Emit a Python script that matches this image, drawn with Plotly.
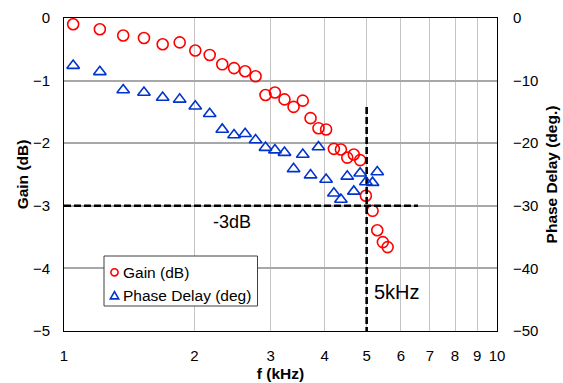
import math
import plotly.graph_objects as go

freq_khz = [1.05, 1.21, 1.37, 1.53, 1.69, 1.85, 2.01, 2.17, 2.32, 2.47,
            2.62, 2.77, 2.92, 3.07, 3.23, 3.39, 3.56, 3.71, 3.87, 4.03,
            4.20, 4.36, 4.51, 4.67, 4.83, 4.98, 5.16, 5.29, 5.45, 5.59]
gain_db = [-0.10, -0.18, -0.28, -0.32, -0.42, -0.39, -0.52, -0.59, -0.74, -0.80,
           -0.85, -0.93, -1.23, -1.19, -1.30, -1.42, -1.32, -1.60, -1.76, -1.78,
           -2.09, -2.10, -2.23, -2.18, -2.27, -2.84, -3.08, -3.39, -3.58, -3.66]
phase_deg = [-7.6, -8.6, -11.5, -11.9, -12.7, -13.0, -14.1, -15.3, -17.8, -18.7,
             -18.5, -19.5, -20.7, -21.1, -21.5, -24.1, -21.8, -25.1, -20.6, -25.8,
             -28.0, -29.0, -25.3, -27.7, -24.8, -26.2, -26.3, -24.6]
x_ticks = [1, 2, 3, 4, 5, 6, 7, 8, 9, 10]
x_ticktext = ["1", "2", "3", "4", "5", "6", "7", "8", "9", "10"]
gain_ticks = [0, -1, -2, -3, -4, -5]
phase_ticks = [0, -10, -20, -30, -40, -50]
series_names = ["Gain (dB)", "Phase Delay (deg)"]
threshold_db = -3
cutoff_khz = 5
hline_x = [1, 6.57]
vline_y = [-1.42, -5]

FONT = "Liberation Sans, Arial, sans-serif"
RED = "#ff0000"
BLUE = "#0033cc"
DASH = "7px,3px"

W, H = 563, 383
ML, MR, MT, MB = 64, 66, 18, 52
PW, PH = W - ML - MR, H - MT - MB


def px_x(px):
    return (px - ML) / PW


def px_y(py):
    return (H - MB - py) / PH


fig = go.Figure()
fig.add_trace(go.Scatter(
    x=freq_khz, y=gain_db, mode="markers", name=series_names[0], showlegend=False,
    marker=dict(symbol="circle-open", size=11, color=RED, line=dict(width=1.6, color=RED)),
))
fig.add_trace(go.Scatter(
    x=freq_khz[:len(phase_deg)], y=phase_deg, mode="markers", name=series_names[1],
    yaxis="y2", showlegend=False,
    marker=dict(symbol="triangle-up-open", size=11, color=BLUE, line=dict(width=1.6, color=BLUE)),
))
fig.add_trace(go.Scatter(
    x=hline_x, y=[threshold_db, threshold_db], mode="lines", showlegend=False,
    line=dict(color="black", width=2.6, dash=DASH), hoverinfo="skip",
))
fig.add_trace(go.Scatter(
    x=[cutoff_khz, cutoff_khz], y=vline_y, mode="lines", showlegend=False,
    line=dict(color="black", width=2.6, dash=DASH), hoverinfo="skip",
))

fig.add_annotation(x=math.log10(2.44), y=-3.26, text="-3dB", showarrow=False,
                   font=dict(family=FONT, size=18, color="black"), xref="x", yref="y")
fig.add_annotation(x=math.log10(5.88), y=-4.37, text="5kHz", showarrow=False,
                   font=dict(family=FONT, size=20, color="black"), xref="x", yref="y")

# manual legend (box, symbols, labels) in paper coordinates
shapes = []
shapes.append(dict(type="rect", xref="paper", yref="paper",
                   x0=px_x(104), x1=px_x(257.5), y0=px_y(306), y1=px_y(256),
                   line=dict(color="#404040", width=1), fillcolor="white", layer="above"))
cx, cy, r = 114.5, 272.3, 3.6
shapes.append(dict(type="circle", xref="paper", yref="paper",
                   x0=px_x(cx - r), x1=px_x(cx + r), y0=px_y(cy + r), y1=px_y(cy - r),
                   line=dict(color=RED, width=1.6), layer="above"))
tx, ty = 114.5, 295.5
path = "M {:.5f},{:.5f} L {:.5f},{:.5f} L {:.5f},{:.5f} Z".format(
    px_x(tx - 4.2), px_y(ty + 3.4), px_x(tx + 4.2), px_y(ty + 3.4), px_x(tx), px_y(ty - 4.0))
shapes.append(dict(type="path", xref="paper", yref="paper", path=path,
                   line=dict(color=BLUE, width=1.6), layer="above"))
fig.update_layout(shapes=shapes)
for name, py in zip(series_names, [272.3, 295.3]):
    fig.add_annotation(x=px_x(120.5), y=px_y(py), xref="paper", yref="paper",
                       text=name, showarrow=False, xanchor="left", yanchor="middle",
                       font=dict(family=FONT, size=15.5, color="black"))

fig.update_layout(
    width=W, height=H,
    margin=dict(l=ML, r=MR, t=MT, b=MB),
    paper_bgcolor="white", plot_bgcolor="white",
    font=dict(family=FONT, size=15, color="black"),
    xaxis=dict(
        type="log", range=[0, 1], tickvals=x_ticks, ticktext=x_ticktext,
        showgrid=True, gridcolor="#c4c4c4", gridwidth=1,
        showline=True, linecolor="black", linewidth=1, mirror=True,
        ticks="", ticklabelstandoff=11, automargin=False,
        title=dict(text="<b>f (kHz)</b>", font=dict(size=15.5), standoff=5),
        zeroline=False,
    ),
    yaxis=dict(
        range=[-5, 0], tickvals=gain_ticks,
        showgrid=True, gridcolor="#a8a8a8", gridwidth=1.5,
        showline=True, linecolor="black", linewidth=1, mirror=True,
        ticks="", ticklabelstandoff=10, automargin=False,
        title=dict(text="<b>Gain (dB)</b>", font=dict(size=15.5), standoff=0),
        zeroline=False,
    ),
    yaxis2=dict(
        range=[-50, 0], tickvals=phase_ticks, overlaying="y", side="right",
        showgrid=False, showline=True, linecolor="black", linewidth=1,
        ticks="", ticklabelstandoff=12, automargin=False,
        title=dict(text="<b>Phase Delay (deg.)</b>", font=dict(size=15.5), standoff=8),
        zeroline=False,
    ),
    showlegend=False,
)

fig.write_html("out.html")
